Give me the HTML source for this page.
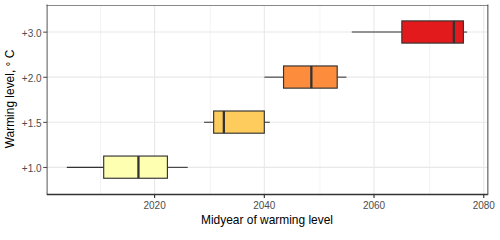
<!DOCTYPE html><html><head><meta charset="utf-8"><style>html,body{margin:0;padding:0;background:#fff;}svg{display:block;}text{font-family:"Liberation Sans",sans-serif;}</style></head><body>
<svg width="500" height="231" viewBox="0 0 500 231">
<rect x="0" y="0" width="500" height="231" fill="#fff"/>
<line x1="100.54" y1="5.0" x2="100.54" y2="194.2" stroke="#EBEBEB" stroke-width="0.6"/>
<line x1="210.26" y1="5.0" x2="210.26" y2="194.2" stroke="#EBEBEB" stroke-width="0.6"/>
<line x1="319.97" y1="5.0" x2="319.97" y2="194.2" stroke="#EBEBEB" stroke-width="0.6"/>
<line x1="429.69" y1="5.0" x2="429.69" y2="194.2" stroke="#EBEBEB" stroke-width="0.6"/>
<line x1="154.60" y1="5.0" x2="154.60" y2="194.2" stroke="#E8E8E8" stroke-width="1.1"/>
<line x1="264.32" y1="5.0" x2="264.32" y2="194.2" stroke="#E8E8E8" stroke-width="1.1"/>
<line x1="374.03" y1="5.0" x2="374.03" y2="194.2" stroke="#E8E8E8" stroke-width="1.1"/>
<line x1="483.75" y1="5.0" x2="483.75" y2="194.2" stroke="#E8E8E8" stroke-width="1.1"/>
<line x1="47.0" y1="167.35" x2="487.6" y2="167.35" stroke="#E8E8E8" stroke-width="1.1"/>
<line x1="47.0" y1="122.25" x2="487.6" y2="122.25" stroke="#E8E8E8" stroke-width="1.1"/>
<line x1="47.0" y1="77.15" x2="487.6" y2="77.15" stroke="#E8E8E8" stroke-width="1.1"/>
<line x1="47.0" y1="32.05" x2="487.6" y2="32.05" stroke="#E8E8E8" stroke-width="1.1"/>
<line x1="66.8" y1="167.35" x2="103.7" y2="167.35" stroke="#333" stroke-width="1.05"/>
<line x1="167.4" y1="167.35" x2="187.7" y2="167.35" stroke="#333" stroke-width="1.05"/>
<rect x="103.7" y="156.05" width="63.70" height="22.20" fill="#FFFFB2" stroke="#333" stroke-width="1.15"/>
<line x1="138.45" y1="156.05" x2="138.45" y2="178.25" stroke="#333" stroke-width="2.3"/>
<line x1="204.1" y1="122.25" x2="213.65" y2="122.25" stroke="#333" stroke-width="1.05"/>
<line x1="264.3" y1="122.25" x2="269.8" y2="122.25" stroke="#333" stroke-width="1.05"/>
<rect x="213.65" y="111.00" width="50.65" height="22.20" fill="#FECC5C" stroke="#333" stroke-width="1.15"/>
<line x1="223.85" y1="111.00" x2="223.85" y2="133.20" stroke="#333" stroke-width="2.3"/>
<line x1="264.4" y1="77.15" x2="283.55" y2="77.15" stroke="#333" stroke-width="1.05"/>
<line x1="337.2" y1="77.15" x2="346.4" y2="77.15" stroke="#333" stroke-width="1.05"/>
<rect x="283.55" y="65.95" width="53.65" height="22.20" fill="#FD8D3C" stroke="#333" stroke-width="1.15"/>
<line x1="311.35" y1="65.95" x2="311.35" y2="88.15" stroke="#333" stroke-width="2.3"/>
<line x1="351.8" y1="32.05" x2="401.85" y2="32.05" stroke="#333" stroke-width="1.05"/>
<line x1="463.4" y1="32.05" x2="467.1" y2="32.05" stroke="#333" stroke-width="1.05"/>
<rect x="401.85" y="20.90" width="61.55" height="22.20" fill="#E31A1C" stroke="#333" stroke-width="1.15"/>
<line x1="453.85" y1="20.90" x2="453.85" y2="43.10" stroke="#333" stroke-width="2.3"/>
<line x1="46.5" y1="5.5" x2="488.1" y2="5.5" stroke="#888" stroke-width="1.0"/>
<line x1="47.1" y1="4.5" x2="47.1" y2="194.7" stroke="#555" stroke-width="1.0"/>
<line x1="46.8" y1="194.45" x2="488.1" y2="194.45" stroke="#333" stroke-width="1.5"/>
<line x1="487.85" y1="4.5" x2="487.85" y2="194.7" stroke="#555" stroke-width="1.1"/>
<line x1="154.60" y1="194.2" x2="154.60" y2="197.89999999999998" stroke="#333" stroke-width="1.15"/>
<line x1="264.32" y1="194.2" x2="264.32" y2="197.89999999999998" stroke="#333" stroke-width="1.15"/>
<line x1="374.03" y1="194.2" x2="374.03" y2="197.89999999999998" stroke="#333" stroke-width="1.15"/>
<line x1="483.75" y1="194.2" x2="483.75" y2="197.89999999999998" stroke="#333" stroke-width="1.15"/>
<line x1="43.2" y1="167.45" x2="47.0" y2="167.45" stroke="#444" stroke-width="1.0"/>
<line x1="43.2" y1="122.35" x2="47.0" y2="122.35" stroke="#444" stroke-width="1.0"/>
<line x1="43.2" y1="77.25" x2="47.0" y2="77.25" stroke="#444" stroke-width="1.0"/>
<line x1="43.2" y1="32.15" x2="47.0" y2="32.15" stroke="#444" stroke-width="1.0"/>
<text x="154.60" y="209.0" font-size="10.0" fill="#4D4D4D" text-anchor="middle">2020</text>
<text x="264.32" y="209.0" font-size="10.0" fill="#4D4D4D" text-anchor="middle">2040</text>
<text x="374.03" y="209.0" font-size="10.0" fill="#4D4D4D" text-anchor="middle">2060</text>
<text x="483.75" y="209.0" font-size="10.0" fill="#4D4D4D" text-anchor="middle">2080</text>
<text x="41.6" y="171.65" font-size="10.0" fill="#4D4D4D" text-anchor="end">+1.0</text>
<text x="41.6" y="126.60" font-size="10.0" fill="#4D4D4D" text-anchor="end">+1.5</text>
<text x="41.6" y="81.55" font-size="10.0" fill="#4D4D4D" text-anchor="end">+2.0</text>
<text x="41.6" y="36.50" font-size="10.0" fill="#4D4D4D" text-anchor="end">+3.0</text>
<text transform="translate(267,223.6) scale(1,1.12)" x="0" y="0" font-size="11.95" fill="#000" text-anchor="middle">Midyear of warming level</text>
<text transform="translate(14.4,99.0) rotate(-90) scale(1,1.07)" x="0" y="0" font-size="11.95" fill="#000" text-anchor="middle">Warming level, <tspan dy="0.6">°</tspan><tspan dy="-0.6"> C</tspan></text>
</svg></body></html>
